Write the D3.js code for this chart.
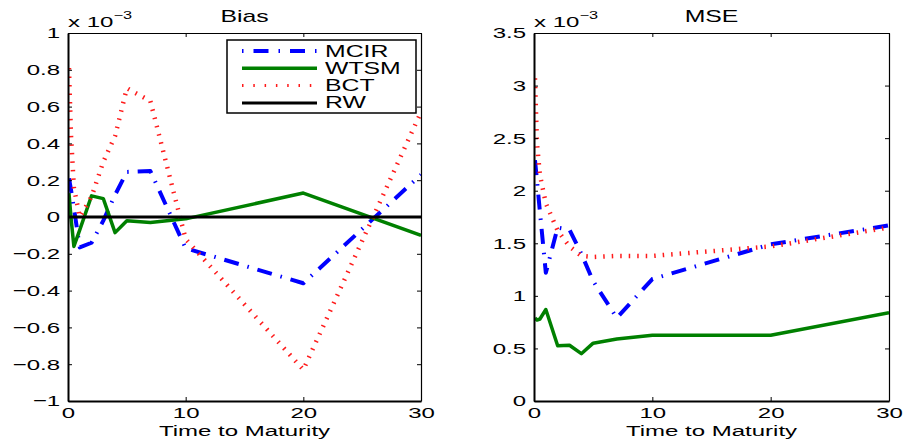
<!DOCTYPE html>
<html>
<head>
<meta charset="utf-8">
<script src="https://cdn.jsdelivr.net/npm/d3@7"></script>
<style>
  body { margin: 0; background: #fff; }
  svg { display: block; }
</style>
</head>
<body>
<svg id="chart" width="904" height="445"></svg>
<script>
// Maturities in years
const maturities = [1/12, 0.25, 0.5, 1, 2, 3, 4, 5, 7, 10, 20, 30];

// Bias (x 10^-3)
const biasMCIR = [0.21, 0.15, 0.05, -0.165, -0.14, -0.02, 0.12, 0.245, 0.25, -0.17, -0.36, 0.23];
const biasWTSM = [0.13, 0.0, -0.16, -0.07, 0.115, 0.10, -0.085, -0.02, -0.03, -0.01, 0.13, -0.10];
const biasBCT  = [0.81, 0.45, 0.16, 0.0, 0.11, 0.30, 0.44, 0.70, 0.63, -0.12, -0.83, 0.57];
const biasRW   = [0, 0, 0, 0, 0, 0, 0, 0, 0, 0, 0, 0];

// MSE (x 10^-3)
const mseMCIR = [2.29, 2.10, 1.80, 1.22, 1.65, 1.63, 1.40, 1.14, 0.79, 1.16, 1.49, 1.67];
const mseWTSM = [0.79, 0.77, 0.78, 0.87, 0.525, 0.53, 0.45, 0.55, 0.59, 0.625, 0.625, 0.84];
const mseBCT  = [3.07, 2.45, 2.15, 1.88, 1.62, 1.47, 1.38, 1.37, 1.38, 1.38, 1.47, 1.65];

const seriesNames = ["MCIR", "WTSM", "BCT", "RW"];
const xTicks = [0, 10, 20, 30];
const biasTicks = [-1, -0.8, -0.6, -0.4, -0.2, 0, 0.2, 0.4, 0.6, 0.8, 1];
const mseTicks = [0, 0.5, 1, 1.5, 2, 2.5, 3, 3.5];

const FONT = "'Liberation Sans', Arial, Helvetica, sans-serif";
const SX = 1.55;          // horizontal stretch of all lettering
const TICK = 4;

const styles = {
  MCIR: { color: "#0000ff", width: 4, dash: "15 9 1.5 9", legendDash: "1.5 10 15 10" },
  WTSM: { color: "#008000", width: 3.5, dash: null, legendDash: null },
  BCT:  { color: "#ff1a1a", width: 4.5, dash: "1.5 7", legendDash: "1.5 9.8" },
  RW:   { color: "#000000", width: 3, dash: null, legendDash: null }
};

const svg = d3.select("#chart");

function stretchedText(parent, x, y, str, size, anchor) {
  return parent.append("text")
    .attr("transform", `translate(${x},${y}) scale(${SX},1)`)
    .attr("text-anchor", anchor || "start")
    .attr("font-family", FONT)
    .attr("font-size", size)
    .attr("fill", "#000")
    .text(str);
}

function drawPanel(cfg) {
  const x = d3.scaleLinear().domain([0, 30]).range([cfg.left, cfg.right]);
  const y = d3.scaleLinear().domain(cfg.yDomain).range([cfg.bottom, cfg.top]);
  const g = svg.append("g");

  g.append("clipPath").attr("id", "clip-" + cfg.id)
    .append("rect")
    .attr("x", cfg.left).attr("y", cfg.top)
    .attr("width", cfg.right - cfg.left).attr("height", cfg.bottom - cfg.top);

  const line = d3.line().x((d, i) => x(maturities[i])).y(d => y(d));
  const plot = g.append("g").attr("clip-path", `url(#clip-${cfg.id})`);
  cfg.series.forEach(s => {
    const st = styles[s.name];
    plot.append("path")
      .attr("d", line(s.values))
      .attr("fill", "none")
      .attr("stroke", st.color)
      .attr("stroke-width", st.width)
      .attr("stroke-dasharray", st.dash)
      .attr("stroke-linejoin", "round");
  });

  const fmt = d3.format("~g");

  const bottom = g.append("g").attr("transform", `translate(0,${cfg.bottom})`)
    .call(d3.axisBottom(x).tickValues(xTicks).tickSizeInner(-TICK).tickSizeOuter(0).tickPadding(6).tickFormat(d3.format("d")));
  const top = g.append("g").attr("transform", `translate(0,${cfg.top})`)
    .call(d3.axisTop(x).tickValues(xTicks).tickSizeInner(-TICK).tickSizeOuter(0).tickFormat(""));
  const left = g.append("g").attr("transform", `translate(${cfg.left},0)`)
    .call(d3.axisLeft(y).tickValues(cfg.yTicks).tickSizeInner(-TICK).tickSizeOuter(0).tickPadding(8).tickFormat(fmt));
  const right = g.append("g").attr("transform", `translate(${cfg.right},0)`)
    .call(d3.axisRight(y).tickValues(cfg.yTicks).tickSizeInner(-TICK).tickSizeOuter(0).tickFormat(""));

  [bottom, top, left, right].forEach(a => {
    a.selectAll(".domain").attr("stroke", "#000");
    a.selectAll(".tick line").attr("stroke", "#000");
    a.selectAll("text").attr("font-family", FONT).attr("font-size", 15.5).attr("fill", "#000");
  });
  bottom.select(".domain").attr("stroke-width", 2);
  left.select(".domain").attr("stroke-width", 2);
  top.select(".domain").attr("stroke-width", 1.2);
  right.select(".domain").attr("stroke-width", 1.2);
  top.selectAll("text").remove();
  right.selectAll("text").remove();

  bottom.selectAll("text").attr("transform", `scale(${SX},1)`);
  left.selectAll("text").attr("transform", `scale(${SX},1)`).attr("x", -8 / SX);

  // title, exponent and axis label
  stretchedText(g, (cfg.left + cfg.right) / 2, 22, cfg.title, 16, "middle");
  const exp = stretchedText(g, cfg.left, 26.5, "x 10", 15.5, "start");
  exp.append("tspan").attr("font-size", 10.5).attr("dy", -8).text("\u22123");
  stretchedText(g, (cfg.left + cfg.right) / 2, 436, "Time to Maturity", 15.5, "middle");

  return { x, y, g };
}

drawPanel({
  id: "bias", title: "Bias",
  left: 68, right: 421, top: 33, bottom: 401,
  yDomain: [-1, 1], yTicks: biasTicks,
  series: [
    { name: "MCIR", values: biasMCIR },
    { name: "WTSM", values: biasWTSM },
    { name: "BCT",  values: biasBCT },
    { name: "RW",   values: biasRW }
  ]
});

drawPanel({
  id: "mse", title: "MSE",
  left: 534, right: 889, top: 33, bottom: 401,
  yDomain: [0, 3.5], yTicks: mseTicks,
  series: [
    { name: "MCIR", values: mseMCIR },
    { name: "WTSM", values: mseWTSM },
    { name: "BCT",  values: mseBCT }
  ]
});

// Legend in the bias panel
const legend = svg.append("g").attr("transform", "translate(227,40)");
legend.append("rect")
  .attr("x", 0).attr("y", 0).attr("width", 189).attr("height", 73)
  .attr("fill", "#fff").attr("stroke", "#000").attr("stroke-width", 1.5);
seriesNames.forEach((name, i) => {
  const st = styles[name];
  const ry = 11 + i * 17.3;
  legend.append("line")
    .attr("x1", 15).attr("x2", 90).attr("y1", ry).attr("y2", ry)
    .attr("stroke", st.color)
    .attr("stroke-width", name === "BCT" ? 3 : st.width)
    .attr("stroke-dasharray", st.legendDash);
  stretchedText(legend, 98, ry + 5.5, name, 16, "start");
});
</script>
</body>
</html>
